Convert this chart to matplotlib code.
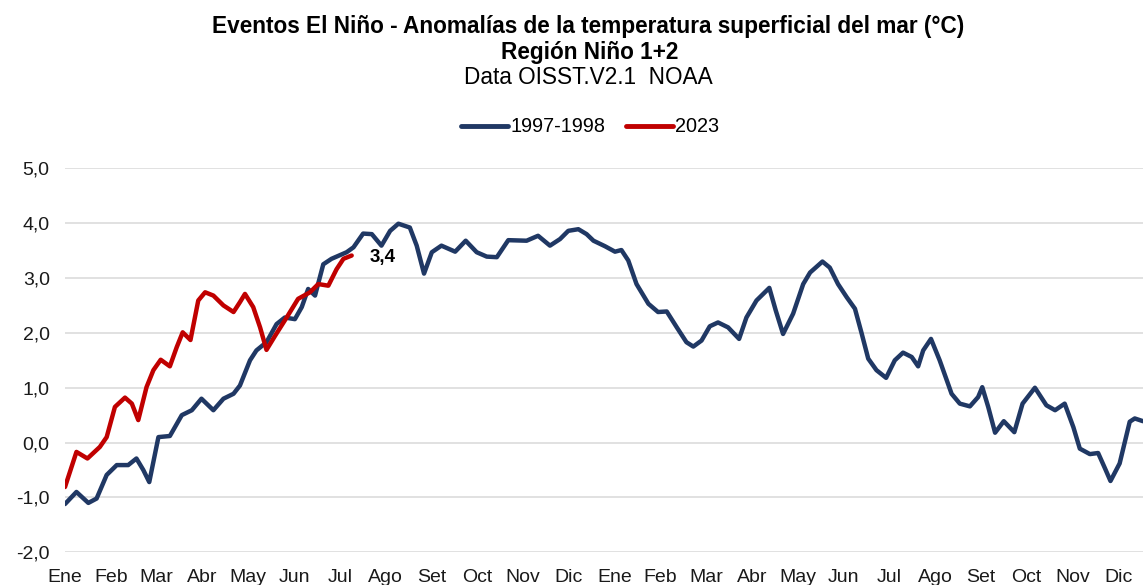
import matplotlib
matplotlib.use('Agg')
from matplotlib.figure import Figure
from matplotlib.ticker import FuncFormatter, FixedLocator
from matplotlib.lines import Line2D

month_labels = ["Ene", "Feb", "Mar", "Abr", "May", "Jun", "Jul", "Ago", "Set", "Oct", "Nov", "Dic",
                "Ene", "Feb", "Mar", "Abr", "May", "Jun", "Jul", "Ago", "Set", "Oct", "Nov", "Dic"]

# positions in months since start of January
t_9798 = [0.00, 0.25, 0.51, 0.69, 0.91, 1.13, 1.38, 1.56, 1.71, 1.84, 2.04, 2.29, 2.55, 2.77,
          2.98, 3.24, 3.46, 3.68, 3.82, 4.04, 4.18, 4.40, 4.62, 4.80, 5.02, 5.17, 5.31, 5.46,
          5.64, 5.82, 6.15, 6.30, 6.51, 6.70, 6.91, 7.10, 7.28, 7.53, 7.68, 7.84, 8.01, 8.22,
          8.52, 8.75, 8.99, 9.21, 9.43, 9.68, 10.08, 10.33, 10.59, 10.81, 10.99, 11.21, 11.39,
          11.54, 11.79, 12.01, 12.15, 12.30, 12.48, 12.74, 12.95, 13.14, 13.36, 13.57, 13.72,
          13.90, 14.08, 14.26, 14.48, 14.72, 14.88, 15.10, 15.38, 15.52, 15.68, 15.90, 16.12,
          16.27, 16.54, 16.70, 16.88, 17.07, 17.25, 17.39, 17.54, 17.72, 17.93, 18.12, 18.30,
          18.49, 18.63, 18.74, 18.91, 19.10, 19.36, 19.54, 19.76, 19.94, 20.03, 20.16, 20.31,
          20.50, 20.73, 20.91, 21.18, 21.43, 21.62, 21.83, 22.02, 22.16, 22.38, 22.56, 22.71,
          22.83, 23.03, 23.25, 23.36, 23.54]
v_9798 = [-1.12, -0.90, -1.10, -1.02, -0.59, -0.41, -0.41, -0.29, -0.50, -0.72, 0.10, 0.12, 0.50, 0.59,
          0.80, 0.59, 0.80, 0.89, 1.04, 1.50, 1.68, 1.83, 2.16, 2.28, 2.25, 2.47, 2.80, 2.68,
          3.25, 3.35, 3.47, 3.56, 3.81, 3.80, 3.59, 3.86, 3.99, 3.92, 3.59, 3.08, 3.47, 3.59,
          3.48, 3.68, 3.47, 3.39, 3.38, 3.69, 3.68, 3.77, 3.59, 3.71, 3.86, 3.89, 3.80,
          3.68, 3.58, 3.48, 3.51, 3.32, 2.89, 2.53, 2.38, 2.39, 2.10, 1.83, 1.75,
          1.86, 2.12, 2.19, 2.10, 1.89, 2.28, 2.59, 2.82, 2.41, 1.98, 2.35, 2.89,
          3.10, 3.30, 3.19, 2.89, 2.65, 2.44, 2.01, 1.53, 1.32, 1.18, 1.50, 1.64,
          1.56, 1.39, 1.68, 1.89, 1.50, 0.89, 0.71, 0.66, 0.83, 1.01, 0.65, 0.18,
          0.39, 0.19, 0.71, 1.00, 0.68, 0.59, 0.71, 0.28, -0.11, -0.21, -0.19, -0.47,
          -0.70, -0.38, 0.38, 0.44, 0.39]

t_2023 = [0.00, 0.25, 0.49, 0.76, 0.91, 1.09, 1.31, 1.46, 1.60, 1.78, 1.93, 2.09, 2.29, 2.44,
          2.57, 2.74, 2.91, 3.06, 3.24, 3.46, 3.68, 3.82, 3.93, 4.11, 4.26, 4.40, 4.59, 4.84,
          5.09, 5.35, 5.53, 5.75, 5.93, 6.08, 6.26]
v_2023 = [-0.81, -0.17, -0.29, -0.08, 0.10, 0.65, 0.82, 0.71, 0.41, 1.01, 1.32, 1.51, 1.39, 1.74,
          2.01, 1.87, 2.59, 2.74, 2.68, 2.50, 2.38, 2.56, 2.71, 2.47, 2.10, 1.69, 1.95, 2.28,
          2.62, 2.74, 2.89, 2.86, 3.16, 3.35, 3.41]

blue = "#203864"
red = "#C00000"
font = ["Liberation Sans", "DejaVu Sans"]

figure = Figure(figsize=(11.43, 5.85), dpi=100)
ax = figure.add_axes([65 / 1143, 32.7 / 585, 1 - 65 / 1143, 384 / 585])

ax.plot(t_9798, v_9798, color=blue, lw=3.2, solid_joinstyle="round", solid_capstyle="round", zorder=3)
ax.plot(t_2023, v_2023, color=red, lw=3.2, solid_joinstyle="round", solid_capstyle="round", zorder=4)
ax.annotate(f"{v_2023[-1]:.1f}".replace(".", ","), (t_2023[-1], v_2023[-1]),
            xytext=(22, -1.5), textcoords="offset points", ha="center", va="center",
            fontsize=13.5, fontweight="bold", family=font)

ax.set_xlim(0, 23.54)
ax.set_ylim(-2, 5)
ax.yaxis.set_major_locator(FixedLocator([-2, -1, 0, 1, 2, 3, 4, 5]))
ax.yaxis.set_major_formatter(FuncFormatter(lambda v, p: f"{v:.1f}".replace(".", ",")))
ax.set_xticks(range(len(month_labels)))
ax.set_xticklabels(month_labels)
for lab in ax.get_xticklabels() + ax.get_yticklabels():
    lab.set_family(font)
    lab.set_fontsize(14)
    lab.set_color("#1a1a1a")
ax.tick_params(axis="y", length=0, pad=11)
ax.tick_params(axis="x", length=0, pad=12)
ax.grid(axis="y", color="#d9d9d9", lw=1.1)
ax.grid(axis="x", visible=False)
ax.set_axisbelow(True)
for sp in ax.spines.values():
    sp.set_visible(False)

figure.text(588 / 1143, 1 - 27 / 585, "Eventos El Niño - Anomalías de la temperatura superficial del mar (°C)",
            ha="center", va="center", fontsize=16.3, fontweight="bold", family=font)
figure.text(590 / 1143, 1 - 52 / 585, "Región Niño 1+2", ha="center", va="center",
            fontsize=16.3, fontweight="bold", family=font)
figure.text(588 / 1143, 1 - 78 / 585, "Data OISST.V2.1  NOAA", ha="center", va="center",
            fontsize=16.3, family=font)

handles = [Line2D([], [], color=blue, lw=3.5, solid_capstyle="round"),
           Line2D([], [], color=red, lw=3.5, solid_capstyle="round")]
figure.legend(handles, ["1997-1998", "2023"], loc="center", bbox_to_anchor=(590 / 1143, 1 - 127 / 585),
              ncol=2, frameon=False, handlelength=2.35, handletextpad=0.1, columnspacing=1.05,
              prop={"family": font, "size": 14.3})

figure.savefig("out.png", dpi=100)
